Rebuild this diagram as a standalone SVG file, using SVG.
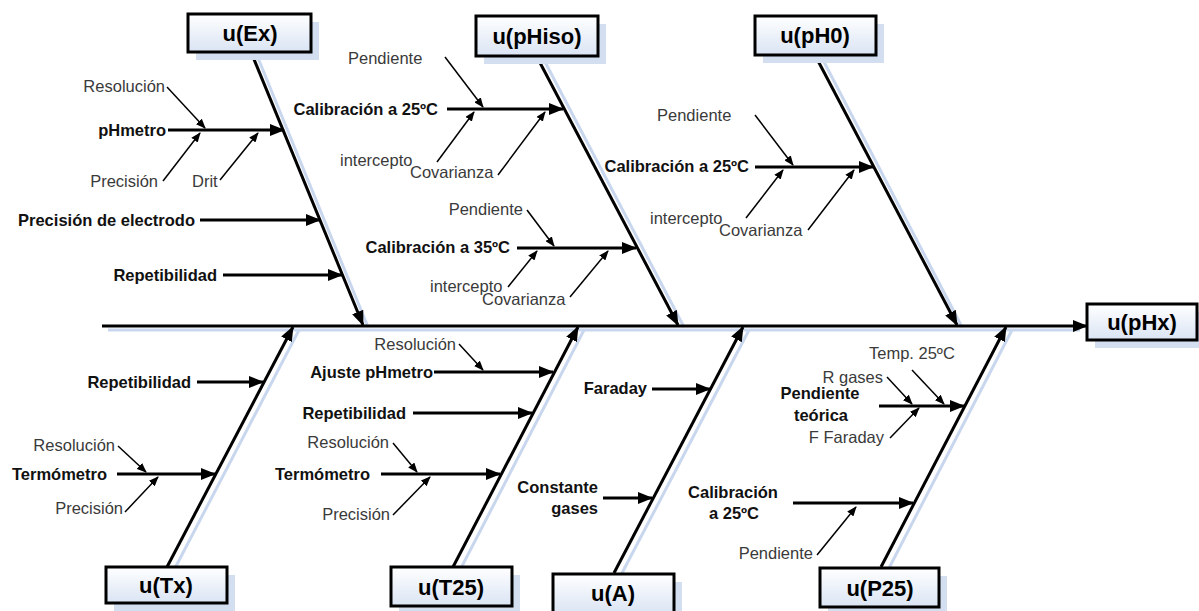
<svg xmlns="http://www.w3.org/2000/svg" width="1199" height="611" viewBox="0 0 1199 611">
<defs>
<style>
.box{fill:url(#boxg);stroke:#000;stroke-width:3}
.shadow{fill:#d3dff1}
.boxt{font-family:"Liberation Sans",Arial,sans-serif;font-weight:bold;font-size:22px;fill:#000;text-anchor:middle}
.b{font-family:"Liberation Sans",Arial,sans-serif;font-weight:bold;font-size:16.5px;fill:#111}
.r{font-family:"Liberation Sans",Arial,sans-serif;font-size:16.5px;fill:#3a3a3a}
.e{text-anchor:end}
.m{text-anchor:middle}
.thick{stroke:#000;stroke-width:3;fill:none;marker-end:url(#big)}
.thin{stroke:#000;stroke-width:1.5;fill:none;marker-end:url(#small)}
.sh{stroke:#c9d7ee;stroke-width:3;fill:none}
</style>
<linearGradient id="boxg" x1="0" y1="0" x2="0" y2="1">
<stop offset="0" stop-color="#ffffff"/>
<stop offset="1" stop-color="#dae4f4"/>
</linearGradient>
<marker id="big" markerUnits="userSpaceOnUse" markerWidth="15" markerHeight="12" refX="14" refY="6" orient="auto">
<path d="M0,0 L15,6 L0,12 z" fill="#000"/>
</marker>
<marker id="small" markerUnits="userSpaceOnUse" markerWidth="10" markerHeight="8" refX="9" refY="4" orient="auto">
<path d="M0,0 L10,4 L0,8 z" fill="#000"/>
</marker>
</defs>
<rect width="1199" height="611" fill="#fff"/>

<g id="shadows">
<line class="sh" x1="108" y1="330" x2="1080" y2="330"/>
<line class="sh" x1="258" y1="58" x2="368" y2="327"/>
<line class="sh" x1="544" y1="60" x2="684" y2="327"/>
<line class="sh" x1="823" y1="60" x2="962" y2="327"/>
<line class="sh" x1="174" y1="570" x2="299" y2="330"/>
<line class="sh" x1="460" y1="570" x2="584" y2="330"/>
<line class="sh" x1="621" y1="575" x2="749" y2="330"/>
<line class="sh" x1="888" y1="570" x2="1012" y2="330"/>
</g>

<g id="connectors">
<line class="thick" x1="102" y1="326" x2="1087" y2="326"/>
<line class="thick" x1="251" y1="52" x2="363" y2="325"/>
<line class="thick" x1="537" y1="57" x2="678" y2="325"/>
<line class="thick" x1="816" y1="57" x2="957" y2="325"/>
<line class="thick" x1="167" y1="567" x2="293" y2="327"/>
<line class="thick" x1="453" y1="567" x2="578" y2="327"/>
<line class="thick" x1="614" y1="573" x2="743" y2="327"/>
<line class="thick" x1="881" y1="567" x2="1006" y2="327"/>

<line class="thick" x1="168" y1="130" x2="284" y2="130"/>
<line class="thick" x1="200" y1="220" x2="320" y2="220"/>
<line class="thick" x1="223" y1="275" x2="342" y2="275"/>
<line class="thick" x1="447" y1="109" x2="563" y2="109"/>
<line class="thick" x1="517" y1="248" x2="636" y2="248"/>
<line class="thick" x1="755" y1="167" x2="873" y2="167"/>
<line class="thick" x1="197" y1="382" x2="263" y2="382"/>
<line class="thick" x1="117" y1="474" x2="215" y2="474"/>
<line class="thick" x1="434" y1="372" x2="553" y2="372"/>
<line class="thick" x1="413" y1="413" x2="532" y2="413"/>
<line class="thick" x1="381" y1="474" x2="500" y2="474"/>
<line class="thick" x1="652" y1="389" x2="710" y2="389"/>
<line class="thick" x1="603" y1="498" x2="652" y2="498"/>
<line class="thick" x1="879" y1="406" x2="964" y2="406"/>
<line class="thick" x1="793" y1="503" x2="913" y2="503"/>

<line class="thin" x1="167" y1="87" x2="205" y2="128"/>
<line class="thin" x1="163" y1="181" x2="200" y2="133"/>
<line class="thin" x1="220" y1="180" x2="258" y2="133"/>
<line class="thin" x1="445" y1="57" x2="483" y2="107"/>
<line class="thin" x1="437" y1="162" x2="474" y2="112"/>
<line class="thin" x1="498" y1="175" x2="545" y2="112"/>
<line class="thin" x1="527" y1="210" x2="554" y2="246"/>
<line class="thin" x1="508" y1="287" x2="537" y2="251"/>
<line class="thin" x1="570" y1="297" x2="608" y2="251"/>
<line class="thin" x1="755" y1="115" x2="793" y2="165"/>
<line class="thin" x1="746" y1="218" x2="783" y2="170"/>
<line class="thin" x1="808" y1="230" x2="854" y2="170"/>
<line class="thin" x1="118" y1="446" x2="146" y2="472"/>
<line class="thin" x1="125" y1="512" x2="158" y2="477"/>
<line class="thin" x1="459" y1="344" x2="483" y2="370"/>
<line class="thin" x1="393" y1="443" x2="417" y2="472"/>
<line class="thin" x1="393" y1="515" x2="430" y2="477"/>
<line class="thin" x1="912" y1="370" x2="944" y2="404"/>
<line class="thin" x1="887" y1="377" x2="912" y2="404"/>
<line class="thin" x1="890" y1="438" x2="919" y2="408"/>
<line class="thin" x1="817" y1="555" x2="856" y2="507"/>
</g>

<g id="node-uEx">
<rect class="shadow" x="196" y="22" width="123" height="38"/>
<rect class="box" x="188" y="14" width="123" height="38"/>
<text class="boxt" x="250" y="41">u(Ex)</text>
</g>
<g id="node-upHiso">
<rect class="shadow" x="484" y="24" width="122" height="40"/>
<rect class="box" x="476" y="16" width="122" height="40"/>
<text class="boxt" x="537" y="44">u(pHiso)</text>
</g>
<g id="node-upH0">
<rect class="shadow" x="763" y="24" width="121" height="39"/>
<rect class="box" x="755" y="16" width="121" height="39"/>
<text class="boxt" x="815" y="43">u(pH0)</text>
</g>
<g id="node-upHx">
<rect class="shadow" x="1095" y="312" width="110" height="36"/>
<rect class="box" x="1087" y="304" width="110" height="36"/>
<text class="boxt" x="1142" y="330">u(pHx)</text>
</g>
<g id="node-uTx">
<rect class="shadow" x="114" y="575" width="121" height="36"/>
<rect class="box" x="106" y="567" width="121" height="36"/>
<text class="boxt" x="166" y="593">u(Tx)</text>
</g>
<g id="node-uT25">
<rect class="shadow" x="399" y="575" width="121" height="39"/>
<rect class="box" x="391" y="567" width="121" height="39"/>
<text class="boxt" x="451" y="595">u(T25)</text>
</g>
<g id="node-uA">
<rect class="shadow" x="561" y="582" width="121" height="40"/>
<rect class="box" x="553" y="574" width="121" height="40"/>
<text class="boxt" x="613" y="601">u(A)</text>
</g>
<g id="node-uP25">
<rect class="shadow" x="828" y="576" width="119" height="39"/>
<rect class="box" x="820" y="568" width="119" height="39"/>
<text class="boxt" x="880" y="596">u(P25)</text>
</g>

<g id="causes-uEx">
<text class="b e" x="166" y="136">pHmetro</text>
<text class="b e" x="195" y="226">Precisión de electrodo</text>
<text class="b e" x="217" y="281">Repetibilidad</text>
<text class="r e" x="165" y="92">Resolución</text>
<text class="r e" x="158" y="187">Precisión</text>
<text class="r" x="192" y="187">Drit</text>
</g>
<g id="causes-upHiso">
<text class="b e" x="438" y="115">Calibración a 25ºC</text>
<text class="b e" x="510" y="253">Calibración a 35ºC</text>
<text class="r" x="348" y="64">Pendiente</text>
<text class="r" x="340" y="166">intercepto</text>
<text class="r" x="410" y="178">Covarianza</text>
<text class="r e" x="523" y="215">Pendiente</text>
<text class="r" x="430" y="292">intercepto</text>
<text class="r" x="482" y="305">Covarianza</text>
</g>
<g id="causes-upH0">
<text class="b e" x="749" y="172">Calibración a 25ºC</text>
<text class="r" x="657" y="121">Pendiente</text>
<text class="r" x="650" y="224">intercepto</text>
<text class="r" x="719" y="236">Covarianza</text>
</g>
<g id="causes-uTx">
<text class="b e" x="191" y="388">Repetibilidad</text>
<text class="b e" x="107" y="480">Termómetro</text>
<text class="r e" x="115" y="451">Resolución</text>
<text class="r e" x="123" y="514">Precisión</text>
</g>
<g id="causes-uT25">
<text class="b e" x="433" y="378">Ajuste pHmetro</text>
<text class="b e" x="406" y="419">Repetibilidad</text>
<text class="b e" x="370" y="480">Termómetro</text>
<text class="r e" x="456" y="350">Resolución</text>
<text class="r e" x="389" y="448">Resolución</text>
<text class="r e" x="390" y="520">Precisión</text>
</g>
<g id="causes-uA">
<text class="b e" x="647" y="394">Faraday</text>
<text class="b e" x="598" y="493">Constante</text>
<text class="b e" x="598" y="514">gases</text>
</g>
<g id="causes-uP25">
<text class="b m" x="820" y="399">Pendiente</text>
<text class="b m" x="821" y="421">teórica</text>
<text class="b m" x="733" y="498">Calibración</text>
<text class="b m" x="734" y="519">a 25ºC</text>
<text class="r" x="869" y="359">Temp. 25ºC</text>
<text class="r e" x="883" y="383">R gases</text>
<text class="r e" x="884" y="443">F Faraday</text>
<text class="r e" x="813" y="559">Pendiente</text>
</g>
</svg>
